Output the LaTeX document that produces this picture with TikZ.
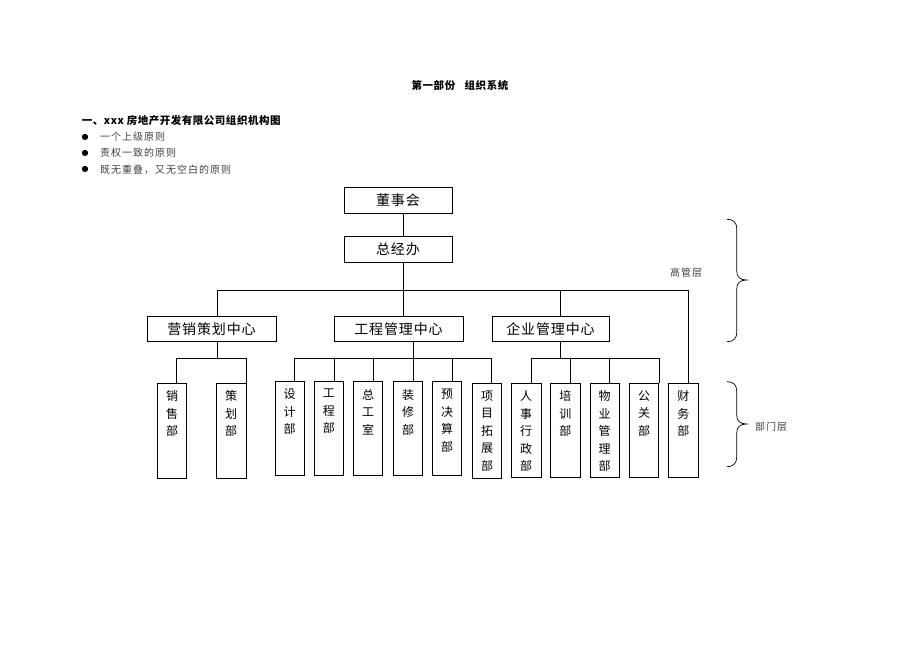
\documentclass[tikz,border=0pt]{standalone}
\usepackage{fontspec}
\setmainfont{Noto Sans CJK SC}
\newfontfamily\cjk{Noto Sans CJK SC}
\newfontfamily\dejavu{DejaVu Sans}
\begin{document}
\begin{tikzpicture}[x=1pt,y=-1pt,
  conn/.style={line width=0.8pt},
  bigbox/.style={draw, line width=0.8pt, inner sep=0, minimum height=25.5pt,
    font=\cjk\fontsize{14}{16}\selectfont\addfontfeature{LetterSpace=6}},
  vbox/.style={draw, line width=0.8pt, inner sep=0, minimum width=29.5pt},
  vtext/.style={anchor=north, inner sep=0, align=center,
    font=\cjk\fontsize{12}{17.5}\selectfont},
  side/.style={inner sep=0, font=\cjk\fontsize{10}{12}\selectfont\addfontfeature{LetterSpace=10}, text=black!75},
  dot/.style={inner sep=0, font=\dejavu\fontsize{8}{10}\selectfont},
  head/.style={inner sep=0, font=\cjk\bfseries\fontsize{10.5}{12}\selectfont\addfontfeature{LetterSpace=5}}
]
\useasboundingbox (0,0) rectangle (920,651);

% header texts
\node[head] (title) at (460,85) {第一部份\hspace{0.9em}组织系统};
\node[head, anchor=west] (sub) at (81.7,121) {一、xxx 房地产开发有限公司组织机构图};
\node[dot] (d1) at (85,137) {●};
\node[dot] (d2) at (85,153) {●};
\node[dot] (d3) at (85,169.5) {●};
\node[side, anchor=west] (l1) at (100,137) {一个上级原则};
\node[side, anchor=west] (l2) at (100,153) {责权一致的原则};
\node[side, anchor=west] (l3) at (100,169.5) {既无重叠，又无空白的原则};

% top boxes
\node[bigbox, minimum width=108pt] (dsh) at (398,200.5) {董事会};
\node[bigbox, minimum width=108pt] (zjb) at (398,249.5) {总经办};
\node[bigbox, minimum width=129pt] (yx) at (211.5,329) {营销策划中心};
\node[bigbox, minimum width=129pt] (gc) at (398.5,329) {工程管理中心};
\node[bigbox, minimum width=117pt] (qy) at (550.5,329) {企业管理中心};

% department boxes
\node[vbox, minimum height=94.5pt] (xs) at (172,430.75) {};
\node[vbox, minimum height=94.5pt] (ch) at (231.2,430.75) {};
\node[vbox, minimum height=93.6pt] (sj) at (289.7,428.5) {};
\node[vbox, minimum height=93.6pt] (gcb) at (328.8,428.5) {};
\node[vbox, minimum height=93.6pt] (zgs) at (368,428.5) {};
\node[vbox, minimum height=93.6pt] (zx) at (408,428.5) {};
\node[vbox, minimum height=93.6pt] (yjs) at (447,428.5) {};
\node[vbox, minimum height=94.5pt] (xm) at (487,430.75) {};
\node[vbox, minimum height=94.4pt] (rs) at (526.2,430.5) {};
\node[vbox, minimum height=94.4pt] (px) at (565.3,430.5) {};
\node[vbox, minimum height=94.4pt] (wy) at (604.7,430.5) {};
\node[vbox, minimum height=94.4pt] (gg) at (644,430.5) {};
\node[vbox, minimum height=94.4pt, minimum width=30pt] (cw) at (683.3,430.5) {};

% vertical labels
\foreach \n/\t in {xs/{销\\售\\部}, ch/{策\\划\\部}, sj/{设\\计\\部}, gcb/{工\\程\\部},
  zgs/{总\\工\\室}, zx/{装\\修\\部}, yjs/{预\\决\\算\\部}, xm/{项\\目\\拓\\展\\部},
  rs/{人\\事\\行\\政\\部}, px/{培\\训\\部}, wy/{物\\业\\管\\理\\部}, gg/{公\\关\\部}, cw/{财\\务\\部}}
  \node[vtext] (\n-t) at ([yshift=-7.5pt]\n.north) {\t};

% trunk
\coordinate (trunk) at (403,290);
\draw[conn] (trunk |- dsh.south) -- (trunk |- zjb.north);
\draw[conn] (trunk |- zjb.south) -- (trunk |- gc.north);
\coordinate (tL) at (217,290);
\coordinate (tQ) at (560.3,290);
\coordinate (tR) at (688.3,290);
\draw[conn] (tL |- yx.north) -- (tL) -- (tR) -- (tR |- cw.north);
\draw[conn] (tQ) -- (tQ |- qy.north);

% marketing
\coordinate (yd) at (217,358.3);
\coordinate (y1) at (176.7,358.3);
\coordinate (y2) at (246,358.3);
\draw[conn] (yx.south -| yd) -- (yd);
\draw[conn] (y1 |- xs.north) -- (y1) -- (y2) -- (y2 |- ch.north);

% engineering
\coordinate (g1) at (294.3,358.3);
\coordinate (g2) at (334.3,358.3);
\coordinate (g3) at (373.3,358.3);
\coordinate (g4) at (413.3,358.3);
\coordinate (g5) at (452.3,358.3);
\coordinate (g6) at (491.7,358.3);
\draw[conn] (g1 |- sj.north) -- (g1) -- (g6) -- (g6 |- xm.north);
\draw[conn] (g2) -- (g2 |- gcb.north);
\draw[conn] (g3) -- (g3 |- zgs.north);
\draw[conn] (gc.south -| g4) -- (g4 |- zx.north);
\draw[conn] (g5) -- (g5 |- yjs.north);

% enterprise
\coordinate (qd) at (560.3,358.3);
\coordinate (q1) at (531,358.3);
\coordinate (q2) at (570.3,358.3);
\coordinate (q3) at (609.7,358.3);
\coordinate (q4) at (659,358.3);
\draw[conn] (qy.south -| qd) -- (qd);
\draw[conn] (q1 |- rs.north) -- (q1) -- (q4) -- (q4 |- gg.north);
\draw[conn] (q2) -- (q2 |- px.north);
\draw[conn] (q3) -- (q3 |- wy.north);

% braces
\draw[line width=0.7pt] (727,219.3) .. controls (733,219.3) and (736.7,222) .. (736.7,229)
  -- (736.7,271) .. controls (736.7,277) and (740,280) .. (746.7,280)
  .. controls (740,280) and (736.7,283) .. (736.7,289)
  -- (736.7,332) .. controls (736.7,339) and (733,341.7) .. (727,341.7);
\draw[line width=0.7pt] (727,381.7) .. controls (733,381.7) and (736.7,384.5) .. (736.7,391)
  -- (736.7,415) .. controls (736.7,421) and (740,424) .. (746.7,424)
  .. controls (740,424) and (736.7,427) .. (736.7,433)
  -- (736.7,457) .. controls (736.7,463.5) and (733,466.7) .. (727,466.7);
\node[side] (ggc) at (686,273) {高管层};
\node[side] (bmc) at (771,427) {部门层};
\end{tikzpicture}
\end{document}
